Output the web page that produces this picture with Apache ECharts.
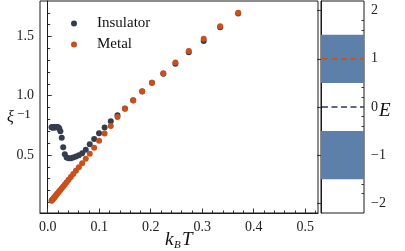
<!DOCTYPE html>
<html><head><meta charset="utf-8">
<script src="https://cdn.jsdelivr.net/npm/echarts@6/dist/echarts.min.js"></script>
<style>html,body{margin:0;padding:0;background:#fff}#c{width:405px;height:251px}</style>
</head><body><div id="c"></div>
<script>
// temperatures k_B T
const temps = [0.0074,0.0082,0.0091,0.0100,0.0111,0.0122,0.0135,0.0150,0.0165,0.0183,0.0202,0.0223,0.0246,0.0272,0.0301,0.0332,0.0367,0.0406,0.0449,0.0496,0.0548,0.0605,0.0669,0.0739,0.0816,0.0902,0.0997,0.1105,0.1225,0.1355,0.150,0.166,0.1835,0.2025,0.2245,0.248,0.274,0.303,0.335,0.370];
// inverse correlation length
const insulator = [0.735,0.733,0.732,0.732,0.733,0.733,0.732,0.733,0.735,0.737,0.735,0.725,0.700,0.645,0.565,0.505,0.478,0.472,0.473,0.478,0.486,0.497,0.515,0.545,0.590,0.635,0.683,0.732,0.785,0.835,0.893,0.962,1.036,1.110,1.185,1.270,1.368,1.462,1.578,1.695];
const metal = [0.113,0.117,0.122,0.127,0.133,0.139,0.146,0.154,0.162,0.172,0.182,0.193,0.205,0.219,0.234,0.251,0.270,0.291,0.314,0.339,0.367,0.397,0.431,0.468,0.510,0.560,0.620,0.682,0.745,0.820,0.890,0.960,1.038,1.110,1.190,1.280,1.378,1.482,1.586,1.700];
// energy bands and levels (right panel)
const bands = [[0.5,1.5],[-1.5,-0.5]];
const levels = [{e:1, name:'Metal'},{e:0, name:'Insulator'}];
// ticks
const xMajor = [0,0.1,0.2,0.3,0.4,0.5];
const xMinor = [0.02,0.04,0.06,0.08,0.12,0.14,0.16,0.18,0.22,0.24,0.26,0.28,0.32,0.34,0.36,0.38,0.42,0.44,0.46,0.48,0.52];
const yMajor = [0.5,1.0,1.5];
const yMinor = [0.1,0.2,0.3,0.4,0.6,0.7,0.8,0.9,1.1,1.2,1.3,1.4,1.6,1.7];
const eMajor = [-2,-1,0,1,2];
const eMinor = [-1.8,-1.6,-1.4,-1.2,-0.8,-0.6,-0.4,-0.2,0.2,0.4,0.6,0.8,1.2,1.4,1.6,1.8];

const C_INS = '#343d4e', C_MET = '#c9501c', C_BAND = '#5d80aa', C_LINE0 = '#2b3a55';
const FONT = "'Liberation Serif', 'DejaVu Serif', serif";
const AX = '#1a1a1a';

const chart = echarts.init(document.getElementById('c'));
const lbl = {fontFamily: FONT, fontSize: 14, color: '#222'};
chart.setOption({
  animation: false,
  grid: [
    {left: 40, top: 1, width: 278, height: 212, show: true, borderColor: AX, borderWidth: 1},
    {left: 321, top: 1, width: 43, height: 212, show: true, borderColor: AX, borderWidth: 1}
  ],
  xAxis: [
    {type:'value', gridIndex:0, min:-0.015, max:0.525, position:'bottom',
     axisLine:{lineStyle:{color:AX}}, splitLine:{show:false},
     axisTick:{inside:true, length:4.5, customValues:xMajor, lineStyle:{color:'#333'}},
     axisLabel:{customValues:xMajor, margin:7, formatter:v=>v.toFixed(1), ...lbl}},
    {type:'value', gridIndex:0, min:-0.015, max:0.525, position:'bottom',
     axisLine:{show:false}, splitLine:{show:false}, axisLabel:{show:false},
     axisTick:{inside:true, length:2.5, customValues:xMinor, lineStyle:{color:'#333'}}},
    {type:'value', gridIndex:1, min:0, max:1, show:false}
  ],
  yAxis: [
    {type:'value', gridIndex:0, min:0.01, max:1.80, position:'left',
     axisLine:{show:true, lineStyle:{color:AX}}, splitLine:{show:false},
     axisTick:{show:true, inside:true, length:4, customValues:yMajor, lineStyle:{color:'#333'}},
     axisLabel:{customValues:yMajor, margin:6, formatter:v=>v.toFixed(1), ...lbl}},
    {type:'value', gridIndex:0, min:0.01, max:1.80, position:'left',
     axisLine:{show:false}, splitLine:{show:false}, axisLabel:{show:false},
     axisTick:{show:true, inside:true, length:2.5, customValues:yMinor, lineStyle:{color:'#333'}}},
    {type:'value', gridIndex:1, min:-2.2, max:2.2, position:'right',
     axisLine:{show:true, lineStyle:{color:AX}}, splitLine:{show:false},
     axisTick:{show:true, inside:true, length:4, customValues:eMajor, lineStyle:{color:'#333'}},
     axisLabel:{customValues:eMajor, margin:7, formatter:v=>(v<0?'\u2212'+(-v):String(v)), ...lbl}},
    {type:'value', gridIndex:1, min:-2.2, max:2.2, position:'right',
     axisLine:{show:false}, splitLine:{show:false}, axisLabel:{show:false},
     axisTick:{show:true, inside:true, length:2.5, customValues:eMinor, lineStyle:{color:'#333'}}}
  ],
  legend: {
    orient:'vertical', left:66, top:11, itemGap:6, itemWidth:6, itemHeight:6, icon:'circle',
    data:['Insulator','Metal'],
    textStyle:{fontFamily:FONT, fontSize:15, color:'#111', padding:[0,0,0,15]}
  },
  series: [
    {name:'Insulator', type:'scatter', xAxisIndex:0, yAxisIndex:0, symbolSize:6,
     itemStyle:{color:C_INS, opacity:1}, data: temps.map((t,i)=>[t, insulator[i]])},
    {name:'Metal', type:'scatter', xAxisIndex:0, yAxisIndex:0, symbolSize:6,
     itemStyle:{color:C_MET, opacity:1}, data: temps.map((t,i)=>[t, metal[i]])},
    {type:'custom', xAxisIndex:2, yAxisIndex:2, silent:true, data: bands,
     renderItem:(params, api)=>{
       const p1 = api.coord([0, api.value(1)]), p2 = api.coord([1, api.value(0)]);
       return {type:'rect', shape:{x:p1[0], y:p1[1], width:p2[0]-p1[0], height:p2[1]-p1[1]},
               style:{fill:C_BAND}};
     }},
    {type:'custom', xAxisIndex:2, yAxisIndex:2, silent:true, z:5,
     data: levels.map(l=>[l.e]),
     renderItem:(params, api)=>{
       const a = api.coord([0, api.value(0)]), b = api.coord([1, api.value(0)]);
       const col = params.dataIndex===0 ? C_MET : C_LINE0;
       return {type:'line', shape:{x1:a[0]+1, y1:a[1], x2:b[0], y2:b[1]},
               style:{stroke:col, lineWidth:1.6, lineDash:[6,3.5]}};
     }}
  ],
  graphic: [
    {type:'text', left:7, top:110, style:{text:'\u03be', font:"italic 16px "+FONT, fill:'#111'}},
    {type:'text', left:17, top:108, style:{text:'\u22121', font:"13px "+FONT, fill:'#111'}},
    {type:'text', left:165, top:230, style:{text:'k', font:"italic 19px "+FONT, fill:'#111'}},
    {type:'text', left:174, top:240, style:{text:'B', font:"italic 11px "+FONT, fill:'#111'}},
    {type:'text', left:182, top:230, style:{text:'T', font:"italic 19px "+FONT, fill:'#111'}},
    {type:'text', left:379, top:101, style:{text:'E', font:"italic 19px "+FONT, fill:'#111'}}
  ]
});
</script></body></html>
